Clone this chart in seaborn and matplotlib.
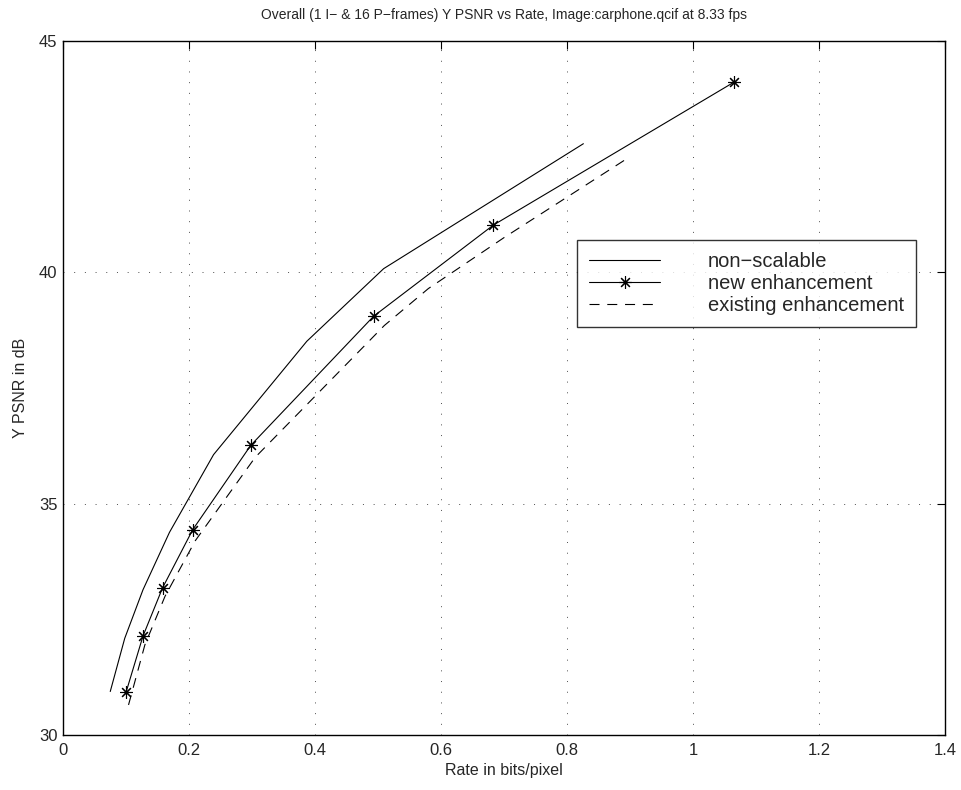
import numpy as np
import pandas as pd
import matplotlib
matplotlib.use("Agg")
import matplotlib.pyplot as plt
import seaborn as sns

# rate (bits/pixel) and Y PSNR (dB)
nonscal_rate = [0.075, 0.098, 0.127, 0.169, 0.239, 0.387, 0.509, 0.826]
nonscal_psnr = [30.94, 32.09, 33.14, 34.38, 36.06, 38.51, 40.08, 42.78]

new_rate = [0.100, 0.127, 0.158, 0.206, 0.298, 0.493, 0.683, 1.065]
new_psnr = [30.92, 32.14, 33.18, 34.44, 36.26, 39.05, 41.02, 44.11]

exist_rate = [0.104, 0.130, 0.162, 0.210, 0.305, 0.510, 0.580, 0.700, 0.900]
exist_psnr = [30.65, 31.95, 33.00, 34.20, 36.00, 38.85, 39.65, 40.75, 42.50]

labels = ["non\u2212scalable", "new enhancement", "existing enhancement"]

sns.set_style("white")
plt.rcParams['font.family'] = ['Liberation Sans', 'DejaVu Sans']

fig = plt.figure(figsize=(9.62, 7.90), dpi=100)
ax = fig.add_axes([63 / 962, 55 / 790, 882 / 962, 694 / 790])

sns.lineplot(x=nonscal_rate, y=nonscal_psnr, ax=ax, color='black', linewidth=0.8,
             label=labels[0], sort=False, estimator=None)
sns.lineplot(x=new_rate, y=new_psnr, ax=ax, color='black', linewidth=0.8,
             marker=(8, 2, 0), markersize=9, markeredgewidth=0.8, markeredgecolor='black',
             label=labels[1], sort=False, estimator=None)
sns.lineplot(x=exist_rate, y=exist_psnr, ax=ax, color='black', linewidth=0.8,
             label=labels[2], sort=False, estimator=None)
ax.lines[2].set_dashes([9, 7])

ax.set_xlim(0, 1.4)
ax.set_ylim(30, 45)
ax.set_xticks(np.arange(0, 1.41, 0.2))
ax.set_xticklabels(["0", "0.2", "0.4", "0.6", "0.8", "1", "1.2", "1.4"])
ax.set_yticks([30, 35, 40, 45])

# matlab-style dotted grid and inward ticks on all four sides
ax.grid(True, color='0.3', linestyle=(0, (1, 10)), linewidth=0.7)
ax.tick_params(direction='in', top=True, right=True, length=6, width=0.8,
               labelsize=12, color='black')
ax.tick_params(axis='x', pad=6)
ax.tick_params(axis='y', pad=4)
for s in ax.spines.values():
    s.set_color('black')
    s.set_linewidth(1.0)

ax.set_title("Overall (1 I\u2212 & 16 P\u2212frames) Y PSNR vs Rate, Image:carphone.qcif at 8.33 fps",
             fontsize=10, pad=16)
ax.set_xlabel("Rate in bits/pixel", fontsize=11.5, labelpad=3)
ax.set_ylabel("Y PSNR in dB", fontsize=11.5, labelpad=8)

handles, labs = ax.get_legend_handles_labels()
leg = ax.legend(handles, labs, loc='upper left', bbox_to_anchor=(0.583, 0.713),
                borderaxespad=0, fontsize=14.5, frameon=True, fancybox=False,
                handlelength=3.5, handletextpad=2.4, labelspacing=0.15,
                borderpad=0.6)
leg.get_frame().set_edgecolor('black')
leg.get_frame().set_linewidth(1.0)

fig.savefig("out.png", dpi=100)
